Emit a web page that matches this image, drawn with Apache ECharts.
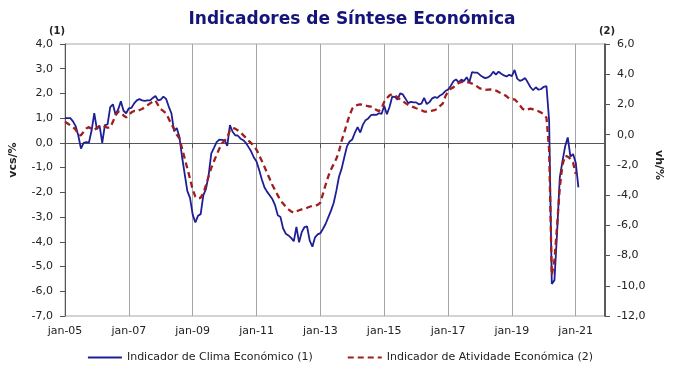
<!DOCTYPE html>
<html>
<head>
<meta charset="utf-8">
<script src="https://cdn.jsdelivr.net/npm/echarts@6/dist/echarts.min.js"></script>
<style>html,body{margin:0;padding:0;background:#fff}#c{width:680px;height:374px}</style>
</head>
<body>
<div id="c"></div>
<script>
// Monthly categories Jan 2005 .. Dec 2021
const monthNames = ['jan','fev','mar','abr','mai','jun','jul','ago','set','out','nov','dez'];
const startYear = 2005, endYear = 2021;
const categories = [];
for (let y = startYear; y <= endYear; y++) {
  for (let m = 0; m < 12; m++) categories.push(monthNames[m] + '-' + String(y).slice(2));
}

// Indicador de Clima Económico (1) — left axis, vcs/%  (Jan 2005 .. Feb 2021)
const climaEconomico = [
  1.0, 1.0, 1.0, 0.87, 0.68, 0.3, -0.23, 0.0, 0.03, 0.01,
  0.5, 1.2, 0.55, 0.7, 0.0, 0.72, 0.75, 1.45, 1.56, 1.15,
  1.35, 1.68, 1.3, 1.2, 1.4, 1.42, 1.6, 1.72, 1.77, 1.72,
  1.7, 1.72, 1.72, 1.82, 1.9, 1.72, 1.75, 1.87, 1.78, 1.47,
  1.2, 0.47, 0.6, 0.25, -0.56, -1.26, -1.95, -2.22, -2.9, -3.22,
  -2.95, -2.88, -2.12, -1.86, -1.3, -0.42, -0.2, 0.03, 0.13, 0.12,
  0.1, -0.12, 0.72, 0.45, 0.31, 0.29, 0.17, 0.11, 0.0, -0.17,
  -0.35, -0.59, -0.75, -1.1, -1.48, -1.8, -1.98, -2.13, -2.28, -2.53,
  -2.93, -3.0, -3.46, -3.67, -3.74, -3.84, -3.98, -3.4, -4.02, -3.61,
  -3.41, -3.38, -3.95, -4.2, -3.82, -3.7, -3.65, -3.47, -3.27, -3.0,
  -2.74, -2.43, -1.94, -1.37, -1.04, -0.58, -0.14, 0.06, 0.14, 0.42,
  0.64, 0.42, 0.74, 0.92, 0.99, 1.12, 1.14, 1.13, 1.2, 1.17,
  1.5, 1.16, 1.45, 1.87, 1.86, 1.75, 2.0, 1.96, 1.79, 1.61,
  1.66, 1.64, 1.64, 1.56, 1.59, 1.82, 1.57, 1.65, 1.8, 1.85,
  1.82, 1.92, 1.98, 2.1, 2.16, 2.3, 2.49, 2.57, 2.45, 2.56,
  2.5, 2.66, 2.45, 2.86, 2.84, 2.84, 2.75, 2.67, 2.62, 2.65,
  2.73, 2.88, 2.76, 2.88, 2.8, 2.73, 2.69, 2.76, 2.7, 2.95,
  2.6, 2.51, 2.55, 2.62, 2.44, 2.25, 2.13, 2.25, 2.15, 2.18,
  2.27, 2.3, 0.9, -5.7, -5.55, -3.6, -1.4, -0.75, -0.15, 0.22,
  -0.55, -0.45, -0.8, -1.8
];

// Indicador de Atividade Económica (2) — right axis, vh/%  (Jan 2005 .. Jan 2021)
const atividadeEconomica = [
  0.85, 0.74, 0.62, 0.5, 0.34, 0.0, -0.04, 0.19, 0.41, 0.5,
  0.37, 0.32, 0.45, 0.56, 0.6, 0.53, 0.46, 0.48, 0.85, 1.28,
  1.52, 1.48, 1.27, 1.14, 1.31, 1.48, 1.57, 1.54, 1.63, 1.7,
  1.83, 1.95, 2.07, 2.18, 2.27, 1.95, 1.69, 1.56, 1.41, 1.05,
  0.69, 0.38, 0.0, -0.25, -0.9, -1.58, -2.24, -2.91, -3.63, -4.1,
  -4.24, -4.17, -3.86, -3.34, -2.75, -2.19, -1.76, -1.33, -0.93, -0.57,
  -0.4, -0.19, 0.3, 0.44, 0.4, 0.28, 0.15, -0.03, -0.2, -0.39,
  -0.56, -0.76, -1.0, -1.37, -1.74, -2.13, -2.55, -2.94, -3.35, -3.68,
  -4.02, -4.35, -4.56, -4.78, -4.94, -5.08, -5.16, -5.08, -5.0, -4.94,
  -4.89, -4.84, -4.77, -4.71, -4.69, -4.65, -4.5, -3.9, -3.3, -2.75,
  -2.3, -1.95, -1.6, -1.1, -0.4, 0.15, 0.75, 1.3, 1.72, 1.9,
  1.97, 2.0, 1.97, 1.93, 1.88, 1.86, 1.77, 1.64, 1.56, 1.75,
  2.17, 2.42, 2.6, 2.68, 2.6, 2.46, 2.33, 2.22, 2.09, 1.97,
  1.89, 1.82, 1.75, 1.69, 1.62, 1.53, 1.53, 1.56, 1.59, 1.63,
  1.7, 1.9, 2.05, 2.54, 2.86, 3.04, 3.13, 3.3, 3.42, 3.48,
  3.5, 3.48, 3.45, 3.38, 3.28, 3.18, 3.06, 3.01, 2.97, 2.98,
  2.99, 2.97, 2.92, 2.82, 2.73, 2.66, 2.54, 2.39, 2.34, 2.34,
  2.16, 1.94, 1.72, 1.61, 1.67, 1.72, 1.67, 1.6, 1.55, 1.46,
  1.35, 1.12, -1.0, -9.3, -8.3, -6.0, -3.5, -2.0, -1.4, -1.45,
  -1.6, -1.85, -2.6
];

const seriesNames = ['Indicador de Clima Económico (1)', 'Indicador de Atividade Económica (2)'];
const titleText = 'Indicadores de Síntese Económica';
const leftAxisName = 'vcs/%', rightAxisName = 'vh/%';

const FONT = 'DejaVu Sans';
const fmt = v => v.toFixed(1).replace('.', ',');
const every24 = (i) => i % 24 === 0;

const chart = echarts.init(document.getElementById('c'), null, {renderer: 'canvas'});
chart.setOption({
  animation: false,
  backgroundColor: '#ffffff',
  textStyle: {fontFamily: FONT},
  grid: {left: 65, right: 75, top: 44, bottom: 58, show: true, borderColor: '#a6a6a6', borderWidth: 1},
  legend: {
    data: seriesNames,
    bottom: 6,
    left: 'center',
    itemWidth: 34,
    itemHeight: 10,
    itemGap: 34,
    itemStyle: {opacity: 0},
    textStyle: {fontFamily: FONT, fontSize: 11, color: '#222'}
  },
  graphic: [
    {type: 'text', x: 352, y: 20, style: {text: titleText, fill: '#14147a', font: 'bold 17px "DejaVu Sans"', textAlign: 'center', textVerticalAlign: 'middle'}},
    {type: 'text', x: 57, y: 31, style: {text: '(1)', fill: '#222', font: 'bold 10px "DejaVu Sans"', textAlign: 'center', textVerticalAlign: 'middle'}},
    {type: 'text', x: 607, y: 31, style: {text: '(2)', fill: '#222', font: 'bold 10px "DejaVu Sans"', textAlign: 'center', textVerticalAlign: 'middle'}},
    {type: 'text', x: 13, y: 160, rotation: Math.PI / 2, style: {text: leftAxisName, fill: '#222', font: 'bold 11px "DejaVu Sans"', textAlign: 'center', textVerticalAlign: 'middle'}},
    {type: 'text', x: 659, y: 165, rotation: -Math.PI / 2, style: {text: rightAxisName, fill: '#222', font: 'bold 11px "DejaVu Sans"', textAlign: 'center', textVerticalAlign: 'middle'}}
  ],
  xAxis: {
    type: 'category',
    data: categories,
    boundaryGap: false,
    axisLine: {lineStyle: {color: '#555', width: 1}},
    axisTick: {show: true, interval: every24, length: 5, lineStyle: {color: '#555'}},
    axisLabel: {interval: every24, margin: 10, fontFamily: FONT, fontSize: 11, color: '#222'},
    splitLine: {show: true, interval: (i) => i % 24 === 0 && i > 0, lineStyle: {color: '#a6a6a6', width: 1}}
  },
  yAxis: [
    {
      type: 'value', position: 'left', min: -7, max: 4, interval: 1,
      axisLine: {show: true, lineStyle: {color: '#555', width: 1}},
      axisTick: {show: true, length: 5, lineStyle: {color: '#555'}},
      axisLabel: {formatter: fmt, margin: 12, fontFamily: FONT, fontSize: 11, color: '#222'},
      splitLine: {show: false}
    },
    {
      type: 'value', position: 'right', min: -12, max: 6, interval: 2,
      axisLine: {show: true, lineStyle: {color: '#333', width: 1.5}},
      axisTick: {show: true, length: 5, lineStyle: {color: '#555'}},
      axisLabel: {formatter: fmt, margin: 12, fontFamily: FONT, fontSize: 11, color: '#222'},
      splitLine: {show: false}
    }
  ],
  series: [
    {
      name: seriesNames[0], type: 'line', yAxisIndex: 0, data: climaEconomico,
      symbol: 'none', showSymbol: false, smooth: false,
      lineStyle: {color: '#1e1e96', width: 1.8},
      itemStyle: {color: '#1e1e96'}
    },
    {
      name: seriesNames[1], type: 'line', yAxisIndex: 1, data: atividadeEconomica,
      symbol: 'none', showSymbol: false, smooth: false,
      lineStyle: {color: '#a01e1e', width: 2.3, type: [6, 4]},
      itemStyle: {color: '#a01e1e'}
    }
  ]
});
</script>
</body>
</html>
